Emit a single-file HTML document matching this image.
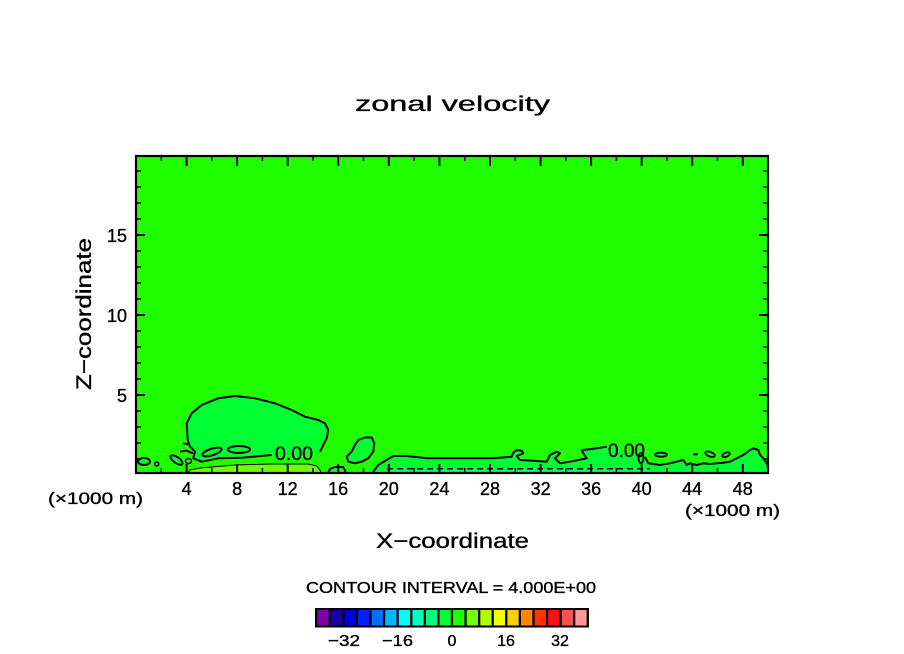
<!DOCTYPE html>
<html>
<head>
<meta charset="utf-8">
<style>
html,body{margin:0;padding:0;background:#fff;}
svg{display:block;}
text{font-family:"Liberation Sans",sans-serif;fill:#000;stroke:#000;stroke-width:0.35;}
</style>
</head>
<body>
<svg width="904" height="654" viewBox="0 0 904 654" xmlns="http://www.w3.org/2000/svg">
<rect x="0" y="0" width="904" height="654" fill="#fff"/>

<!-- title -->
<text x="355" y="111" font-size="21" textLength="195" lengthAdjust="spacingAndGlyphs">zonal velocity</text>

<!-- plot background -->
<rect x="136" y="156" width="632" height="317" fill="#20ff00"/>

<!-- yellow-green region (4..8) -->
<path d="M188,473 L190,470 L200,468 L235,465 L270,464 L308,464 L316.7,466 L320,470 L321,473 Z" fill="#70ff00" stroke="#000" stroke-width="1"/>

<!-- big left bubble fill -->
<path d="M186.7,423.3 L191.7,413.3 L201.7,405 L218.3,398.3 L235,396 L255,398.3 L275,403.3 L291.7,410 L305,416.7 L318.3,420 L325,423.3 L328.3,430 L326.7,438.3 L320,451.7 L300,455 L271.7,455 L241.7,457.7 L218.3,458.3 L201.7,461.7 L193.3,458.3 L195,451.7 L190,446.7 L187.7,440 Z" fill="#00ff30"/>
<path d="M320,451.7 L326.7,438.3 L328.3,430 L325,423.3 L318.3,420 L305,416.7 L291.7,410 L275,403.3 L255,398.3 L235,396 L218.3,398.3 L201.7,405 L191.7,413.3 L186.7,423.3 L187.7,440 L190,446.7 L195,451.7 L193.3,458.3 L201.7,461.7 L218.3,458.3 L241.7,457.7 L271.7,455" fill="none" stroke="#000" stroke-width="2" stroke-linejoin="round"/>
<text x="275" y="460" font-size="19" textLength="38" lengthAdjust="spacingAndGlyphs">0.00</text>

<!-- inner blobs -->
<ellipse cx="212" cy="452" rx="10" ry="3.3" transform="rotate(-18 212 452)" fill="none" stroke="#000" stroke-width="2"/>
<ellipse cx="239" cy="449.5" rx="11" ry="3.5" fill="none" stroke="#000" stroke-width="2"/>
<path d="M183,443.3 L188,444.3" fill="none" stroke="#000" stroke-width="2"/>
<path d="M180,451.7 L186,450.5 L193,453.3" fill="none" stroke="#000" stroke-width="2"/>
<ellipse cx="176.5" cy="460" rx="7" ry="3" transform="rotate(35 176.5 460)" fill="#00ff30" stroke="#000" stroke-width="2"/>
<ellipse cx="188.5" cy="461" rx="3" ry="2.5" fill="none" stroke="#000" stroke-width="1.5"/>
<circle cx="156.7" cy="464" r="2" fill="#00ff30" stroke="#000" stroke-width="1.5"/>
<ellipse cx="144" cy="461.5" rx="6" ry="3.5" fill="#00ff30" stroke="#000" stroke-width="2"/>

<!-- right blob -->
<path d="M348.3,461.7 L346.7,456.7 L351.7,451.7 L355,445 L358.3,440 L365,437.5 L371.7,437.5 L374.3,443.3 L373.3,451.7 L368.3,458.3 L361.7,461.7 L355,463.3 Z" fill="#00ff30" stroke="#000" stroke-width="2" stroke-linejoin="round"/>

<!-- small bottom bump -->
<path d="M328,473 L330,469 L335,467 L343,467 L345,470 L345.5,473 Z" fill="#00ff30" stroke="#000" stroke-width="2"/>

<!-- big right region fill -->
<path d="M373,473 L373.3,471.7 L378.3,465 L386.7,460 L393.3,456 L406.7,456 L426.7,458.3 L460,458.3 L493.3,458.3 L511.7,456.7 L513.3,452.7 L516.7,450 L521.7,450.7 L523.3,453.3 L516.7,456 L520,460 L533.3,460.7 L546.7,461.7 L550,455 L556.7,451.7 L560,453.3 L555,458.3 L560,463.3 L570,461.7 L586.7,458.3 L583.3,453.3 L581.7,450 L590,449.3 L603.3,447.3 L606.7,446.7 L645,455 L648.3,463.3 L660,465 L670,463.3 L676.7,461.7 L683.3,460 L686.7,465 L690,463.3 L696.7,465 L703.3,463.3 L710,464 L716.7,463.3 L723.3,462.7 L730,461.7 L736.7,458.3 L743.3,455 L750,450 L753.3,448.3 L758.3,450 L760,455 L763.3,458.3 L766.7,463.3 L768,466.7 L768,473 Z" fill="#00ff30"/>
<!-- strip below dashed -->
<rect x="387" y="469" width="263" height="4" fill="#00ff70"/>
<path d="M373,473 L373.3,471.7 L378.3,465 L386.7,460 L393.3,456 L406.7,456 L426.7,458.3 L460,458.3 L493.3,458.3 L511.7,456.7 L513.3,452.7 L516.7,450 L521.7,450.7 L523.3,453.3 L516.7,456 L520,460 L533.3,460.7 L546.7,461.7 L550,455 L556.7,451.7 L560,453.3 L555,458.3 L560,463.3 L570,461.7 L586.7,458.3 L583.3,453.3 L581.7,450 L590,449.3 L603.3,447.3 L606.7,446.7" fill="none" stroke="#000" stroke-width="2" stroke-linejoin="round"/>
<path d="M645,457 L648.3,463.3 L660,465 L670,463.3 L676.7,461.7 L683.3,460 L686.7,465 L690,463.3 L696.7,465 L703.3,463.3 L710,464 L716.7,463.3 L723.3,462.7 L730,461.7 L736.7,458.3 L743.3,455 L750,450 L753.3,448.3 L758.3,450 L760,455 L763.3,458.3 L766.7,463.3 L768,466.7" fill="none" stroke="#000" stroke-width="2" stroke-linejoin="round"/>
<text x="608" y="457" font-size="19" textLength="37" lengthAdjust="spacingAndGlyphs">0.00</text>
<ellipse cx="641" cy="458" rx="2.5" ry="5" fill="none" stroke="#000" stroke-width="1.8"/>
<!-- small right blobs -->
<ellipse cx="661" cy="454.7" rx="6" ry="2" fill="#00ff30" stroke="#000" stroke-width="1.8"/>
<ellipse cx="695.5" cy="454.2" rx="2.5" ry="1.2" fill="#000"/>
<ellipse cx="710" cy="454.2" rx="5" ry="2.3" transform="rotate(20 710 454.2)" fill="#00ff30" stroke="#000" stroke-width="1.8"/>
<ellipse cx="726" cy="454.7" rx="4" ry="2" transform="rotate(-25 726 454.7)" fill="#00ff30" stroke="#000" stroke-width="1.8"/>

<!-- dashed negative contour -->
<path d="M387,468.7 L650,468.7" stroke="#000" stroke-width="1.5" stroke-dasharray="6,4" fill="none"/>

<!-- ticks -->
<g stroke="#000" stroke-width="1.5">
<path d="M161.3,473v-5M211.8,473v-5M262.4,473v-5M313,473v-5M363.5,473v-5M414,473v-5M464.7,473v-5M515.3,473v-5M565.8,473v-5M616.4,473v-5M667,473v-5M717.5,473v-5
M161.3,156v5M211.8,156v5M262.4,156v5M313,156v5M363.5,156v5M414,156v5M464.7,156v5M515.3,156v5M565.8,156v5M616.4,156v5M667,156v5M717.5,156v5"/>
<path d="M136,459h5M136,443h5M136,427h5M136,411h5M136,379h5M136,363h5M136,347h5M136,331h5M136,299h5M136,283h5M136,267h5M136,251h5M136,219h5M136,203h5M136,187h5M136,171h5
M768,459h-5M768,443h-5M768,427h-5M768,411h-5M768,379h-5M768,363h-5M768,347h-5M768,331h-5M768,299h-5M768,283h-5M768,267h-5M768,251h-5M768,219h-5M768,203h-5M768,187h-5M768,171h-5"/>
</g>
<g stroke="#000" stroke-width="2">
<path d="M186.6,473v-9M237.1,473v-9M287.7,473v-9M338.2,473v-9M388.8,473v-9M439.4,473v-9M490,473v-9M540.6,473v-9M591.1,473v-9M641.7,473v-9M692.2,473v-9M742.8,473v-9
M186.6,156v10M237.1,156v10M287.7,156v10M338.2,156v10M388.8,156v10M439.4,156v10M490,156v10M540.6,156v10M591.1,156v10M641.7,156v10M692.2,156v10M742.8,156v10"/>
<path d="M136,395h9M136,315h9M136,235h9M768,395h-9M768,315h-9M768,235h-9"/>
</g>

<!-- frame -->
<rect x="136" y="156" width="632" height="317" fill="none" stroke="#000" stroke-width="2.2"/>

<!-- y tick labels -->
<g font-size="18" text-anchor="end">
<text x="127" y="242">15</text>
<text x="127" y="322">10</text>
<text x="127" y="402">5</text>
</g>
<!-- x tick labels -->
<g font-size="18" text-anchor="middle">
<text x="186.6" y="495">4</text>
<text x="237.1" y="495">8</text>
<text x="287.7" y="495">12</text>
<text x="338.2" y="495">16</text>
<text x="388.8" y="495">20</text>
<text x="439.4" y="495">24</text>
<text x="490" y="495">28</text>
<text x="540.6" y="495">32</text>
<text x="591.1" y="495">36</text>
<text x="641.7" y="495">40</text>
<text x="692.2" y="495">44</text>
<text x="742.8" y="495">48</text>
</g>

<text x="48" y="504" font-size="17" textLength="95" lengthAdjust="spacingAndGlyphs">(×1000 m)</text>
<text x="685" y="516" font-size="17" textLength="95" lengthAdjust="spacingAndGlyphs">(×1000 m)</text>

<text x="376" y="548" font-size="21" textLength="153" lengthAdjust="spacingAndGlyphs">X−coordinate</text>
<text transform="translate(91,390) rotate(-90)" x="0" y="0" font-size="21" textLength="152" lengthAdjust="spacingAndGlyphs">Z−coordinate</text>

<text x="306" y="593" font-size="16" textLength="290" lengthAdjust="spacingAndGlyphs">CONTOUR INTERVAL = 4.000E+00</text>

<!-- colorbar -->
<rect x="315" y="608" width="274" height="19.5" fill="#000"/>
<g>
<rect x="317.3" y="610" width="11.3" height="15.5" fill="#7d00a8"/>
<rect x="330.9" y="610" width="11.3" height="15.5" fill="#1a00a5"/>
<rect x="344.5" y="610" width="11.3" height="15.5" fill="#0000dd"/>
<rect x="358.0" y="610" width="11.3" height="15.5" fill="#0020ff"/>
<rect x="371.6" y="610" width="11.3" height="15.5" fill="#0070ff"/>
<rect x="385.2" y="610" width="11.3" height="15.5" fill="#00b8ff"/>
<rect x="398.8" y="610" width="11.3" height="15.5" fill="#00ffff"/>
<rect x="412.4" y="610" width="11.3" height="15.5" fill="#00ffc0"/>
<rect x="426.0" y="610" width="11.3" height="15.5" fill="#00ff78"/>
<rect x="439.5" y="610" width="11.3" height="15.5" fill="#00ff30"/>
<rect x="453.1" y="610" width="11.3" height="15.5" fill="#20ff00"/>
<rect x="466.7" y="610" width="11.3" height="15.5" fill="#70ff00"/>
<rect x="480.3" y="610" width="11.3" height="15.5" fill="#b0ff00"/>
<rect x="493.8" y="610" width="11.3" height="15.5" fill="#f0ff00"/>
<rect x="507.4" y="610" width="11.3" height="15.5" fill="#ffd000"/>
<rect x="521.0" y="610" width="11.3" height="15.5" fill="#ff8800"/>
<rect x="534.6" y="610" width="11.3" height="15.5" fill="#ff3300"/>
<rect x="548.2" y="610" width="11.3" height="15.5" fill="#ff1010"/>
<rect x="561.8" y="610" width="11.3" height="15.5" fill="#ff5050"/>
<rect x="575.3" y="610" width="11.3" height="15.5" fill="#ff9898"/>
</g>
<g font-size="16">
<text x="328" y="646" textLength="32" lengthAdjust="spacingAndGlyphs">−32</text>
<text x="382" y="646" textLength="31" lengthAdjust="spacingAndGlyphs">−16</text>
<text x="452" y="646" text-anchor="middle">0</text>
<text x="506" y="646" text-anchor="middle">16</text>
<text x="560" y="646" text-anchor="middle">32</text>
</g>
</svg>
</body>
</html>
